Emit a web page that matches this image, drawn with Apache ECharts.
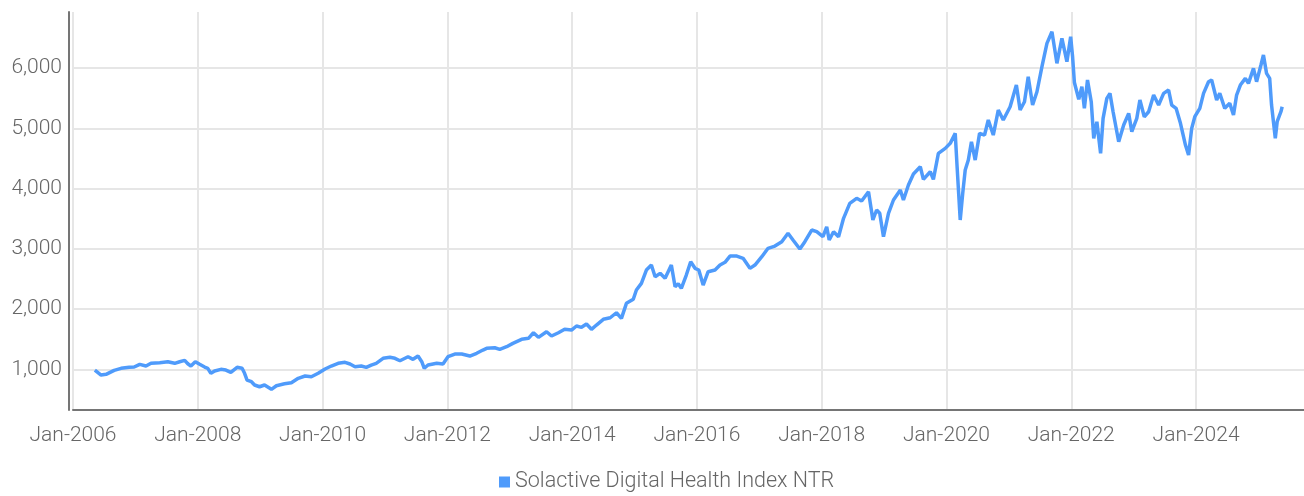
<!DOCTYPE html>
<html>
<head>
<meta charset="utf-8">
<script src="https://cdn.jsdelivr.net/npm/echarts@6/dist/echarts.min.js"></script>
<style>
  html, body { margin: 0; padding: 0; background: #fff; }
  #chart { width: 1304px; height: 496px; }
</style>
</head>
<body>
<div id="chart"></div>
<script>
// time in fractional years
var years = [
  2006.35, 2006.45, 2006.53, 2006.66, 2006.77, 2006.90, 2006.98, 2007.07, 2007.17, 2007.25,
  2007.39, 2007.52, 2007.63, 2007.71, 2007.79, 2007.84, 2007.89, 2007.96, 2008.03, 2008.11,
  2008.16, 2008.21, 2008.27, 2008.37, 2008.45, 2008.53, 2008.63, 2008.71, 2008.75, 2008.79,
  2008.86, 2008.91, 2008.99, 2009.07, 2009.18, 2009.26, 2009.39, 2009.50, 2009.61, 2009.72,
  2009.82, 2009.93, 2010.04, 2010.14, 2010.25, 2010.36, 2010.44, 2010.52, 2010.62, 2010.70,
  2010.78, 2010.86, 2010.97, 2011.08, 2011.16, 2011.24, 2011.37, 2011.45, 2011.53, 2011.59,
  2011.63, 2011.69, 2011.83, 2011.93, 2012.01, 2012.12, 2012.23, 2012.36, 2012.47, 2012.57,
  2012.63, 2012.76, 2012.84, 2012.95, 2013.05, 2013.19, 2013.30, 2013.38, 2013.46, 2013.59,
  2013.67, 2013.78, 2013.88, 2013.99, 2014.07, 2014.15, 2014.23, 2014.31, 2014.39, 2014.50,
  2014.61, 2014.71, 2014.79, 2014.87, 2014.98, 2015.03, 2015.11, 2015.19, 2015.27, 2015.33,
  2015.41, 2015.49, 2015.59, 2015.65, 2015.70, 2015.75, 2015.83, 2015.90, 2015.97, 2016.03,
  2016.10, 2016.18, 2016.29, 2016.37, 2016.45, 2016.53, 2016.64, 2016.74, 2016.85, 2016.93,
  2017.04, 2017.14, 2017.25, 2017.36, 2017.46, 2017.54, 2017.65, 2017.73, 2017.84, 2017.92,
  2018.02, 2018.08, 2018.12, 2018.19, 2018.27, 2018.35, 2018.45, 2018.56, 2018.64, 2018.75,
  2018.80, 2018.82, 2018.88, 2018.93, 2018.99, 2019.07, 2019.15, 2019.26, 2019.31, 2019.39,
  2019.47, 2019.58, 2019.63, 2019.74, 2019.79, 2019.87, 2019.98, 2020.06, 2020.14, 2020.17,
  2020.22, 2020.26, 2020.30, 2020.35, 2020.40, 2020.46, 2020.53, 2020.61, 2020.67, 2020.75,
  2020.83, 2020.91, 2021.02, 2021.12, 2021.18, 2021.25, 2021.31, 2021.38, 2021.45, 2021.53,
  2021.61, 2021.69, 2021.77, 2021.85, 2021.93, 2021.99, 2022.02, 2022.05, 2022.12, 2022.17,
  2022.21, 2022.26, 2022.32, 2022.36, 2022.41, 2022.47, 2022.51, 2022.57, 2022.62, 2022.67,
  2022.76, 2022.84, 2022.92, 2022.97, 2023.05, 2023.10, 2023.17, 2023.24, 2023.32, 2023.40,
  2023.48, 2023.56, 2023.61, 2023.68, 2023.75, 2023.83, 2023.88, 2023.93, 2023.98, 2024.06,
  2024.12, 2024.20, 2024.25, 2024.33, 2024.38, 2024.46, 2024.54, 2024.60, 2024.65, 2024.71,
  2024.79, 2024.84, 2024.92, 2024.97, 2025.04, 2025.08, 2025.13, 2025.18, 2025.21, 2025.27,
  2025.30, 2025.36, 2025.38
];

var indexValues = [
  988, 905, 917, 983, 1017, 1033, 1038, 1083, 1055, 1100,
  1110, 1126, 1100, 1126, 1149, 1093, 1055, 1126, 1083, 1038,
  1017, 934, 972, 1000, 988, 950, 1033, 1017, 934, 822,
  795, 740, 711, 740, 668, 728, 760, 778, 851, 889,
  877, 934, 1005, 1055, 1100, 1116, 1088, 1043, 1055, 1033,
  1071, 1100, 1183, 1199, 1183, 1143, 1209, 1166, 1221, 1126,
  1017, 1071, 1100, 1088, 1209, 1254, 1254, 1221, 1266, 1320,
  1348, 1358, 1332, 1375, 1431, 1498, 1514, 1607, 1531, 1624,
  1553, 1607, 1664, 1652, 1719, 1697, 1752, 1664, 1735, 1830,
  1856, 1939, 1846, 2095, 2162, 2316, 2427, 2648, 2731, 2537,
  2593, 2510, 2731, 2371, 2420, 2344, 2565, 2786, 2676, 2648,
  2399, 2620, 2648, 2731, 2776, 2880, 2880, 2842, 2676, 2731,
  2869, 3008, 3046, 3118, 3257, 3146, 2996, 3118, 3312, 3284,
  3201, 3366, 3146, 3284, 3201, 3506, 3755, 3838, 3793, 3947,
  3615, 3478, 3644, 3589, 3201, 3589, 3810, 3975, 3810, 4058,
  4241, 4362, 4153, 4279, 4153, 4584, 4667, 4750, 4916, 4362,
  3478, 3921, 4307, 4473, 4777, 4473, 4916, 4888, 5137, 4888,
  5303, 5137, 5358, 5718, 5303, 5441, 5856, 5386, 5607, 6022,
  6410, 6602, 6078, 6493, 6105, 6521, 6200, 5760, 5480, 5690,
  5331, 5801, 5441, 4833, 5109, 4584, 5165, 5497, 5580, 5275,
  4777, 5054, 5248, 4943, 5165, 5469, 5192, 5275, 5552, 5386,
  5580, 5635, 5386, 5331, 5082, 4722, 4556, 4999, 5192, 5331,
  5580, 5773, 5801, 5469, 5580, 5331, 5414, 5220, 5552, 5718,
  5829, 5746, 5995, 5773, 6050, 6216, 5912, 5829, 5386, 4833,
  5109, 5275, 5358
];

var seriesName = 'Solactive Digital Health Index NTR';
var yTicks = [1000, 2000, 3000, 4000, 5000, 6000];

var FONT = 'Roboto, sans-serif';
var TEXT = '#666666';

var chart = echarts.init(document.getElementById('chart'));

var points = years.map(function (t, i) { return [t, indexValues[i]]; });

chart.setOption({
  animation: false,
  grid: { left: 73, right: 0, top: 12, bottom: 86, containLabel: false, outerBoundsMode: 'none' },
  legend: {
    top: 466,
    left: 494,
    icon: 'rect',
    itemWidth: 11,
    itemHeight: 11,
    itemGap: 10,
    textStyle: { color: TEXT, fontFamily: FONT, fontWeight: 300, fontSize: 21.5 },
    data: [seriesName]
  },
  xAxis: {
    type: 'value',
    min: 2006,
    max: 2025.73,
    interval: 2,
    axisLine: { lineStyle: { color: '#757575', width: 2 } },
    axisTick: { show: false },
    axisLabel: {
      color: TEXT, fontFamily: FONT, fontWeight: 300, fontSize: 21, margin: 15,
      showMaxLabel: false,
      formatter: function (v) { return 'Jan-' + Math.round(v); }
    },
    splitLine: { show: true, showMaxLine: false, lineStyle: { color: '#e6e6e6', width: 2 } }
  },
  yAxis: {
    type: 'value',
    min: 325,
    max: 6930,
    minInterval: 1000,
    maxInterval: 1000,
    offset: 4,
    axisLine: { show: true, lineStyle: { color: '#757575', width: 2 } },
    axisTick: { show: false },
    axisLabel: {
      color: TEXT, fontFamily: FONT, fontWeight: 300, fontSize: 21, margin: 7,
      showMinLabel: false, showMaxLabel: false,
      formatter: function (v) { return yTicks.indexOf(v) >= 0 ? v.toLocaleString('en-US') : ''; }
    },
    splitLine: { show: true, showMinLine: false, showMaxLine: false, lineStyle: { color: '#e6e6e6', width: 2 } }
  },
  series: [{
    name: seriesName,
    type: 'line',
    data: points,
    showSymbol: false,
    symbol: 'none',
    lineStyle: { color: '#4f9bfb', width: 3.5 },
    itemStyle: { color: '#4f9bfb' }
  }]
});
</script>
</body>
</html>
